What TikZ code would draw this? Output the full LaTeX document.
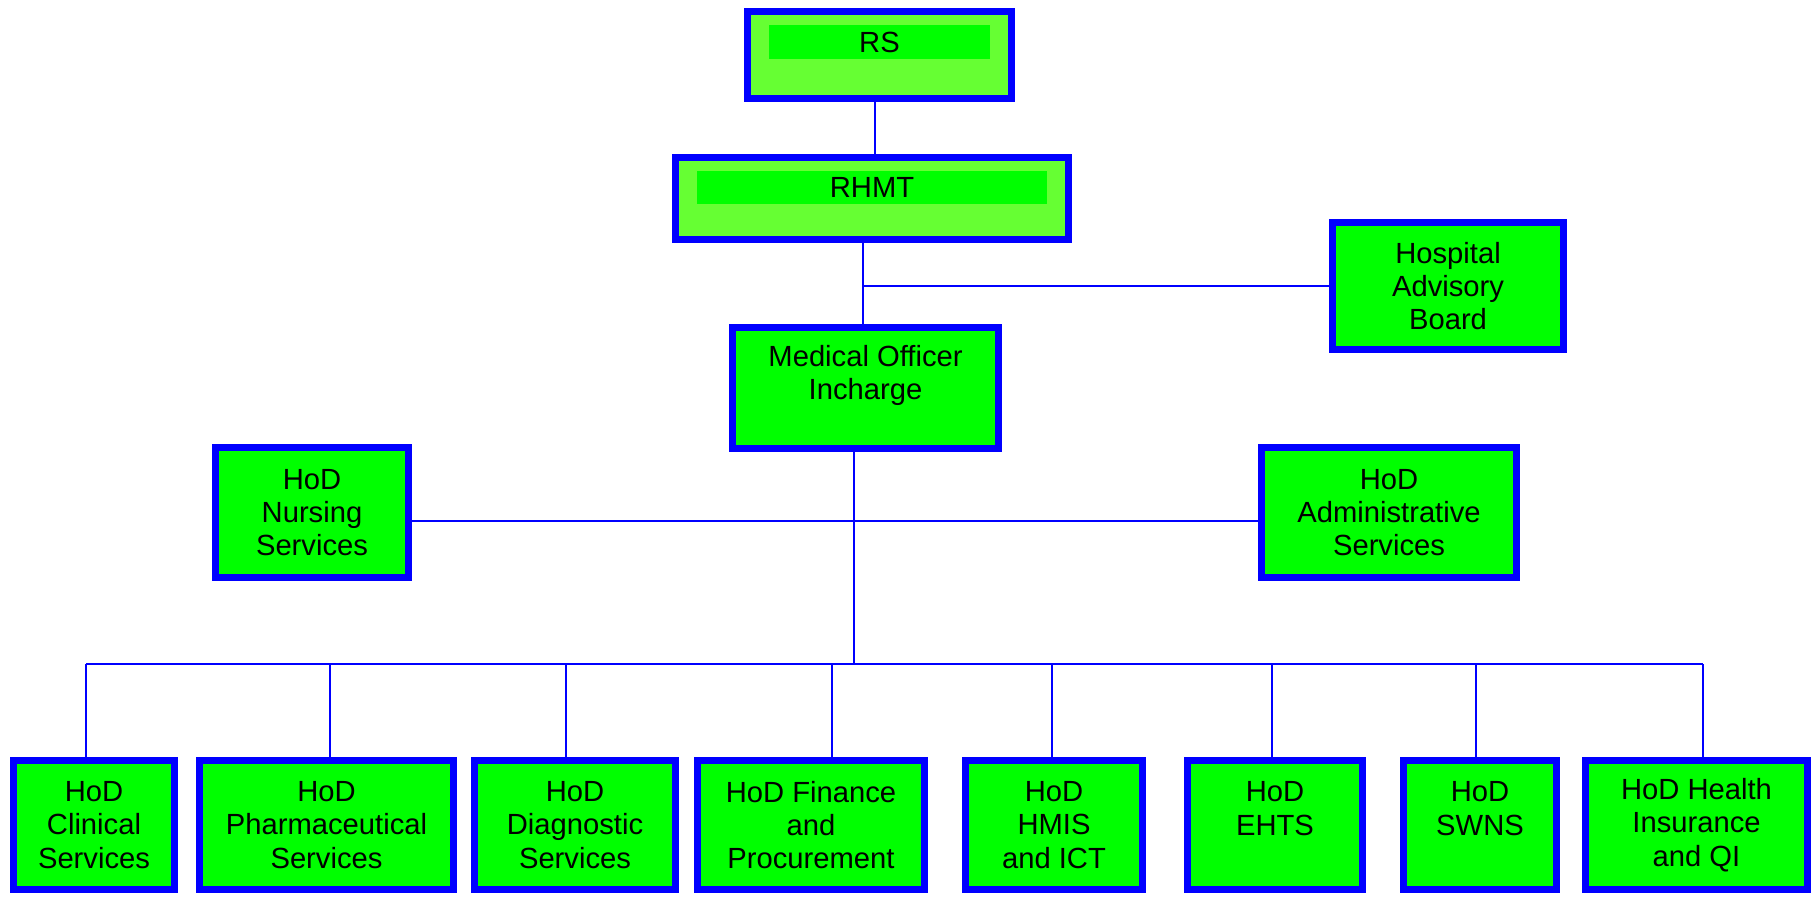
\documentclass[tikz,border=0pt]{standalone}
\usepackage{fontspec}
\setmainfont{Liberation Sans}
\definecolor{boxblue}{HTML}{0000FF}
\definecolor{boxgreen}{HTML}{00FF00}
\definecolor{lightgreen}{HTML}{66FF33}
\tikzset{
	unit/.style={draw=boxblue, line width=2pt, fill=boxgreen, align=center,
		inner sep=0pt, font=\fontsize{8.3}{9.5}\selectfont},
	head/.style={unit, fill=lightgreen},
	tag/.style={fill=boxgreen, inner sep=0pt, font=\fontsize{8.3}{9.5}\selectfont},
	link/.style={draw=boxblue, line width=0.55pt},
}

\begin{document}
\begin{tikzpicture}[x=0.01cm, y=-0.01cm]
	\useasboundingbox (0,0) rectangle (1819,896);

	% top of the chart
	\node[head, minimum width=2.64cm, minimum height=0.87cm] (rs) at (879.5,55) {};
	\node[tag, minimum width=2.21cm, minimum height=0.34cm] (rstag) at (879.5,42) {RS};
	\node[head, minimum width=3.93cm, minimum height=0.82cm] (rhmt) at (872,198.5) {};
	\node[tag, minimum width=3.50cm, minimum height=0.33cm] (rhmttag) at (872,187.5) {RHMT};
	\node[unit, minimum width=2.31cm, minimum height=1.27cm] (hab) at (1448,286) {Hospital\\Advisory\\Board};
	\node[unit, minimum width=2.66cm, minimum height=1.21cm, text depth=8.85pt] (mo) at (865.5,388) {Medical Officer\\Incharge};
	\node[unit, minimum width=1.93cm, minimum height=1.30cm] (nurs) at (312,512.5) {HoD\\Nursing\\Services};
	\node[unit, minimum width=2.55cm, minimum height=1.30cm] (adm) at (1389,512.5) {HoD\\Administrative\\Services};

	% heads of department
	\node[unit, minimum width=1.61cm, minimum height=1.29cm] (clin) at (94,825) {HoD\\Clinical\\Services};
	\node[unit, minimum width=2.54cm, minimum height=1.29cm] (pharm) at (326.5,825) {HoD\\Pharmaceutical\\Services};
	\node[unit, minimum width=2.01cm, minimum height=1.29cm] (diag) at (575,825) {HoD\\Diagnostic\\Services};
	\node[unit, minimum width=2.27cm, minimum height=1.29cm] (fin) at (811,825) {HoD Finance\\and\\Procurement};
	\node[unit, minimum width=1.77cm, minimum height=1.29cm] (hmis) at (1054,825) {HoD\\HMIS\\and ICT};
	\node[unit, minimum width=1.75cm, minimum height=1.29cm, text depth=9.4pt] (ehts) at (1275,825) {HoD\\EHTS};
	\node[unit, minimum width=1.53cm, minimum height=1.29cm, text depth=9.4pt] (swns) at (1480,825) {HoD\\SWNS};
	\node[unit, minimum width=2.22cm, minimum height=1.29cm] (hiqi) at (1696.5,825) {HoD Health\\Insurance\\and QI};

	% lines
	\coordinate (hb) at (863,286);
	\coordinate (mid) at (854,521);
	\coordinate (trunk) at (854,664);
	\coordinate (bus) at (86,664);
	\coordinate (busend) at (1703,664);

	\draw[link] (rs.south -| 875,0) -- (rhmt.north -| 875,0);
	\draw[link] (rhmt.south -| hb) -- (mo.north -| hb);
	\draw[link] (hb) -- (hab.west);
	\draw[link] (nurs.east |- mid) -- (adm.west |- mid);
	\draw[link] (mo.south -| trunk) -- (trunk);
	\draw[link] (bus) -- (busend);
	\foreach \n/\x in {clin/86, pharm/330, diag/566, fin/832, hmis/1052, ehts/1272, swns/1476, hiqi/1703}
		\draw[link] (bus -| \x,0) -- (\n.north -| \x,0);
\end{tikzpicture}
\end{document}
